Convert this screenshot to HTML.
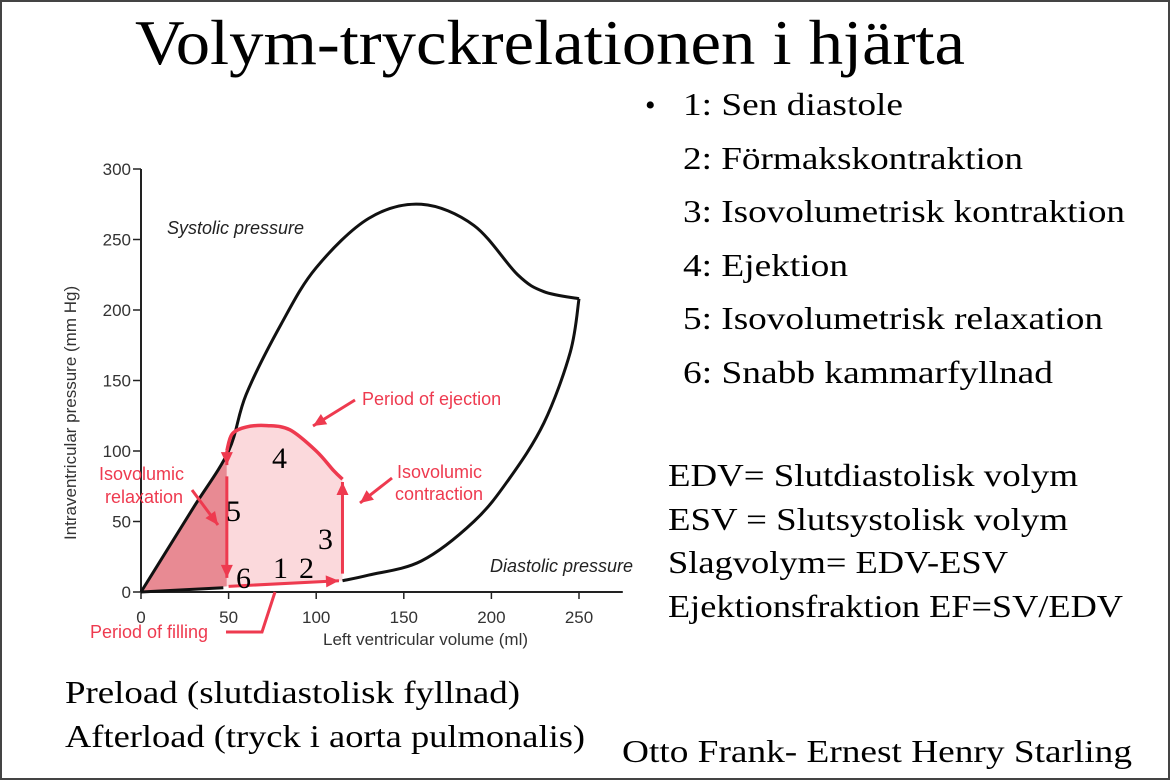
<!DOCTYPE html>
<html><head><meta charset="utf-8"><style>
html,body{margin:0;padding:0;background:#fff}
svg{display:block}
.s{font-family:"Liberation Serif",serif;fill:#000}
.a{font-family:"Liberation Sans",sans-serif}
</style></head><body>
<svg width="1170" height="780" viewBox="0 0 1170 780">
<rect x="1" y="1" width="1168" height="778" fill="#fff" stroke="#444" stroke-width="2"/>
<text class="s" x="135" y="64" font-size="64" textLength="830" lengthAdjust="spacingAndGlyphs">Volym-tryckrelationen i hjärta</text>
<g>
<text class="s" x="645" y="115" font-size="30">•</text>
<text class="s" x="683" y="115" font-size="32" textLength="220" lengthAdjust="spacingAndGlyphs">1: Sen diastole</text>
<text class="s" x="683" y="169" font-size="32" textLength="340" lengthAdjust="spacingAndGlyphs">2: Förmakskontraktion</text>
<text class="s" x="683" y="222" font-size="32" textLength="442" lengthAdjust="spacingAndGlyphs">3: Isovolumetrisk kontraktion</text>
<text class="s" x="683" y="276" font-size="32" textLength="165" lengthAdjust="spacingAndGlyphs">4: Ejektion</text>
<text class="s" x="683" y="329" font-size="32" textLength="420" lengthAdjust="spacingAndGlyphs">5: Isovolumetrisk relaxation</text>
<text class="s" x="683" y="383" font-size="32" textLength="370" lengthAdjust="spacingAndGlyphs">6: Snabb kammarfyllnad</text>
</g>
<g>
<text class="s" x="668" y="486" font-size="32" textLength="410" lengthAdjust="spacingAndGlyphs">EDV= Slutdiastolisk volym</text>
<text class="s" x="668" y="530" font-size="32" textLength="400" lengthAdjust="spacingAndGlyphs">ESV = Slutsystolisk volym</text>
<text class="s" x="668" y="573" font-size="32" textLength="340" lengthAdjust="spacingAndGlyphs">Slagvolym= EDV-ESV</text>
<text class="s" x="668" y="617" font-size="32" textLength="455" lengthAdjust="spacingAndGlyphs">Ejektionsfraktion EF=SV/EDV</text>
</g>
<text class="s" x="65" y="703" font-size="32" textLength="455" lengthAdjust="spacingAndGlyphs">Preload (slutdiastolisk fyllnad)</text>
<text class="s" x="65" y="747" font-size="32" textLength="520" lengthAdjust="spacingAndGlyphs">Afterload (tryck i aorta pulmonalis)</text>
<text class="s" x="622" y="762" font-size="32" textLength="510" lengthAdjust="spacingAndGlyphs">Otto Frank- Ernest Henry Starling</text>
<g id="chart"></g>
</svg>
<script>
const xTicks=[0,50,100,150,200,250];
const yTicks=[0,50,100,150,200,250,300];
const systolicVol=[0,10,30,50,60,80,100,130,160,190,215,230,250];
const systolicP=[0,20,60,100,140,190,230,265,275,260,225,213,208];
const diastolicVol=[250,245,230,210,190,160,130,115];
const diastolicP=[208,170,120,80,50,22,12,8];
const loopVol=[49,52,60,72,85,100,110,115];
const loopP=[100,112,117,118,115,100,86,80];
const esv=49, edv=115;

const X=v=>141+v*(579-141)/250;
const Y=p=>592-p*(592-169)/300;
const NS='http://www.w3.org/2000/svg';
const g=document.getElementById('chart');
function mk(t,a,parent){const e=document.createElementNS(NS,t);for(const k in a)e.setAttribute(k,a[k]);(parent||g).appendChild(e);return e;}
function smooth(vs,ps){let d='M'+X(vs[0])+','+Y(ps[0]);const P=vs.map((v,i)=>[X(v),Y(ps[i])]);
 for(let i=0;i<P.length-1;i++){const p0=P[i-1]||P[i],p1=P[i],p2=P[i+1],p3=P[i+2]||p2;
  d+=` C${p1[0]+(p2[0]-p0[0])/6},${p1[1]+(p2[1]-p0[1])/6} ${p2[0]-(p3[0]-p1[0])/6},${p2[1]-(p3[1]-p1[1])/6} ${p2[0]},${p2[1]}`;}return d;}

let e;
e=mk('path',{d:`M${X(0)},${Y(0)} L${X(esv)},${Y(95)} L${X(esv)},${Y(4)} Z`,fill:'#e88a93'});


e=mk('path',{d:smooth(loopVol,loopP)+` L${X(edv)},${Y(8)} L${X(esv)},${Y(4)} Z`,fill:'#fbd9dc'});



e=mk('line',{x1:X(0),y1:Y(0),x2:X(0),y2:Y(300),stroke:'#222','stroke-width':2});


e=mk('line',{x1:X(0),y1:Y(0),x2:X(275),y2:Y(0),stroke:'#222','stroke-width':2});


yTicks.forEach(t=>{
 e=mk('line',{x1:X(0)-8,y1:Y(t),x2:X(0),y2:Y(t),stroke:'#222','stroke-width':1.5});
 
 
 e=mk('text',{x:X(0)-10,y:Y(t)+6,'text-anchor':'end','font-size':17,class:'a',fill:'#333'});e.textContent=t;
 
 
});
xTicks.forEach(t=>{
 e=mk('line',{x1:X(t),y1:Y(0),x2:X(t),y2:Y(0)+7,stroke:'#222','stroke-width':1.5});
 
 
 e=mk('text',{x:X(t),y:Y(0)+31,'text-anchor':'middle','font-size':17,class:'a',fill:'#333'});e.textContent=t;
 
 
});
e=mk('text',{x:323,y:645,'font-size':17,class:'a',fill:'#333'});e.textContent='Left ventricular volume (ml)';


e=mk('text',{x:0,y:0,'font-size':17,class:'a',fill:'#333',transform:'translate(76,540) rotate(-90)'});e.textContent='Intraventricular pressure (mm Hg)';



e=mk('path',{d:smooth(systolicVol,systolicP),fill:'none',stroke:'#111','stroke-width':3});


e=mk('path',{d:smooth(diastolicVol,diastolicP),fill:'none',stroke:'#111','stroke-width':3});


e=mk('line',{x1:X(0),y1:Y(0),x2:X(esv-2),y2:Y(3),stroke:'#111','stroke-width':3});



const red='#ee3a4f';
e=mk('path',{d:smooth(loopVol,loopP),fill:'none',stroke:red,'stroke-width':3.5});


function arrow(x1,y1,x2,y2,name){
 const a=mk('line',{x1,y1,x2,y2,stroke:red,'stroke-width':3});
 
 
 const ang=Math.atan2(y2-y1,x2-x1),L=13,W=6;
 const h=mk('polygon',{points:`${x2},${y2} ${x2-L*Math.cos(ang)+W*Math.sin(ang)},${y2-L*Math.sin(ang)-W*Math.cos(ang)} ${x2-L*Math.cos(ang)-W*Math.sin(ang)},${y2-L*Math.sin(ang)+W*Math.cos(ang)}`,fill:red});
 
 
}
arrow(X(esv),Y(loopP[0]),X(esv),Y(90),'relaxation-arrow-top');
arrow(X(esv),Y(82),X(esv),Y(10),'relaxation-arrow');
arrow(X(esv+1),Y(4),X(edv-2),Y(8),'filling-arrow');
arrow(X(edv),Y(13),X(edv),Y(loopP[loopP.length-1]-2),'contraction-arrow');
arrow(355,400,313,426,'ejection-pointer');
arrow(392,478,360,503,'contraction-pointer');
arrow(192,490,218,525,'relaxation-pointer');
e=mk('polyline',{points:'226,632 262,632 275,592',fill:'none',stroke:red,'stroke-width':3});



const lab=[['Systolic pressure',167,234,'#222','italic'],['Diastolic pressure',490,572,'#222','italic'],
['Period of ejection',362,405,red,'normal'],['Isovolumic',397,478,red,'normal'],['contraction',395,500,red,'normal'],
['Isovolumic',99,480,red,'normal'],['relaxation',105,503,red,'normal'],['Period of filling',90,638,red,'normal']];
lab.forEach(l=>{e=mk('text',{x:l[1],y:l[2],'font-size':18,class:'a',fill:l[3],'font-style':l[4]});e.textContent=l[0];
 
 });
const nums=[['4',272,468],['5',226,521],['3',318,549],['1',273,578],['2',299,578],['6',236,588]];
nums.forEach(n=>{e=mk('text',{x:n[1],y:n[2],'font-size':30,class:'s'});e.textContent=n[0];
 
 });
</script>
</body></html>
